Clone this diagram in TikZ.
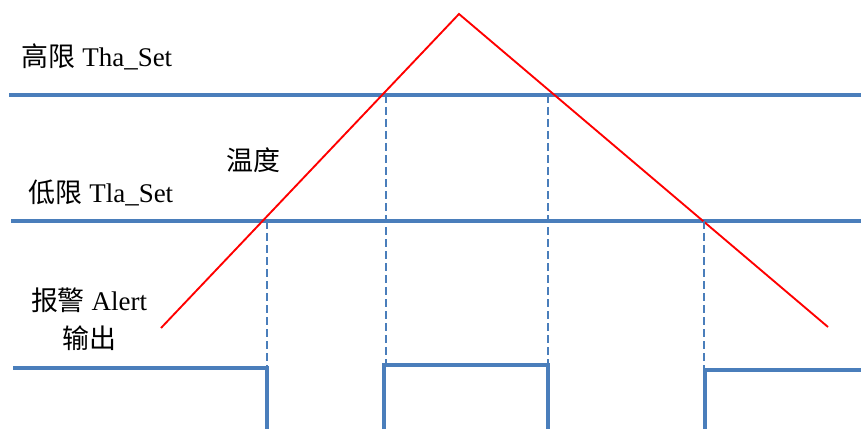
\documentclass[tikz,border=0pt]{standalone}
\usepackage{fontspec}
\setmainfont{Liberation Serif}
\newfontfamily\cjk{Noto Sans CJK SC}
\usetikzlibrary{positioning}
\definecolor{setblue}{RGB}{74,126,187}

\begin{document}
\begin{tikzpicture}[x=0.03cm, y=-0.03cm, font=\fontsize{23}{32}\selectfont,
    level/.style={draw=setblue, line width=2.7pt},
    guide/.style={draw=setblue, line width=1.7pt, dash pattern=on 0.24cm off 0.12cm},
    temp/.style={draw=red, line width=1.6pt}]
    \useasboundingbox (0,0) rectangle (861,429);

    % Define coordinates
    \coordinate (tstart) at (161,328);
    \coordinate (tpeak) at (459,14);
    \coordinate (tend) at (828,327);
    \coordinate (hl) at (9,95);   \coordinate (hr) at (861,95);
    \coordinate (ll) at (11,221); \coordinate (lr) at (861,221);
    \coordinate (up1) at (267,221); \coordinate (dn1) at (267,368);
    \coordinate (up2) at (386,95);  \coordinate (dn2) at (386,365);
    \coordinate (up3) at (548,95);  \coordinate (dn3) at (548,365);
    \coordinate (up4) at (704,221); \coordinate (dn4) at (704,370);

    % Define nodes
    \node (hi) at (97,57) {{\cjk 高限} Tha\_Set};
    \node (lo) at (101,193) {{\cjk 低限} Tla\_Set};
    \node (wendu) at (253,160) {\cjk 温度};
    \node (alert) [align=center] at (89,319) {{\cjk 报警} Alert\\{\cjk 输出}};

    % Draw lines
    \draw[level] (hl) -- (hr);
    \draw[level] (ll) -- (lr);
    \draw[temp] (tstart) -- (tpeak) -- (tend);
    \draw[guide] (up1) -- (dn1);
    \draw[guide] (up2) -- (dn2);
    \draw[guide] (up3) -- (dn3);
    \draw[guide] (up4) -- (dn4);

    % Draw output
    \draw[level] (13,368) -- (dn1) -- (267,429);
    \draw[level] (384,429) -- (384,365) -- (dn3) -- (548,429);
    \draw[level] (705,429) -- (705,370) -- (861,370);

\end{tikzpicture}
\end{document}
